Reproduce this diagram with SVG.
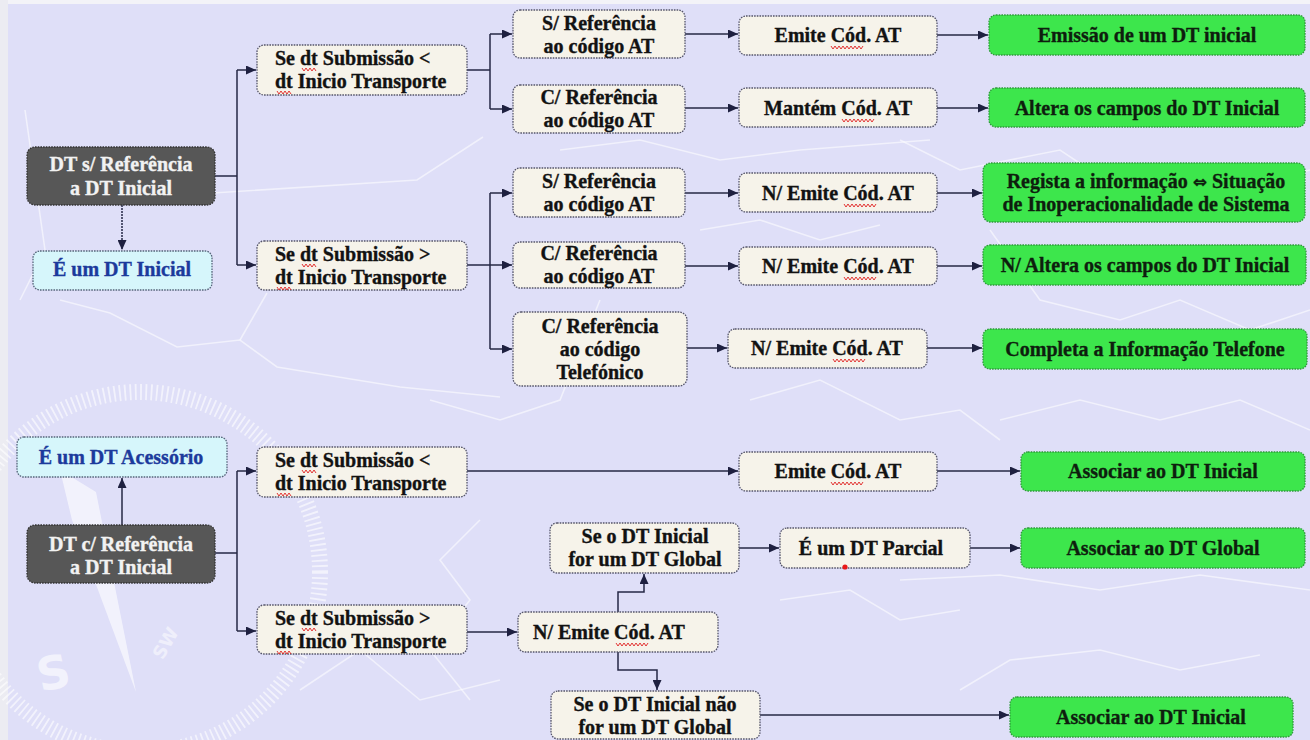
<svg xmlns="http://www.w3.org/2000/svg" xmlns:xlink="http://www.w3.org/1999/xlink" width="1310" height="740" viewBox="0 0 1310 740" font-family="'Liberation Serif', serif">
<defs>
<style>
.bx{fill:#f6f3ea;stroke:#55556a;stroke-width:1.3;stroke-dasharray:1.6,1.1}
.gr{fill:#3de64c;stroke:#2e9a3a;stroke-width:1.3;stroke-dasharray:1.6,1.1}
.dk{fill:#575757;stroke:#333;stroke-width:1.3;stroke-dasharray:1.6,1.1}
.cy{fill:#d6f6fb;stroke:#55657a;stroke-width:1.3;stroke-dasharray:1.6,1.1}
text{font-family:'Liberation Serif','Times New Roman',serif;font-weight:bold;font-size:20px;fill:#121212;stroke:#121212;stroke-width:0.35}
.c{text-anchor:middle}
.w{fill:#f2f2f2;stroke:#f2f2f2}
.b{fill:#1c3a9c;stroke:#1c3a9c}
.g{fill:#0e1e0e;stroke:#0e1e0e}
.ln{fill:none;stroke:#262845;stroke-width:1.5}
.bg{fill:none;stroke:#ffffff;stroke-width:1.6;stroke-opacity:0.55}
.sq{fill:none;stroke:#e02020;stroke-width:0.9}
.dec{font-family:'DejaVu Sans',sans-serif;fill:#ffffff;stroke:none}
</style>
<marker id="ar" markerUnits="userSpaceOnUse" markerWidth="11" markerHeight="9" refX="10" refY="4.5" orient="auto">
<path d="M0,0 L10,4.5 L0,9 z" fill="#1e2040"/>
</marker>
<path id="sq14" class="sq" d="M0,0 l2,3 l2,-3 l2,3 l2,-3 l2,3 l2,-3 l2,3"/>
<path id="sq32" class="sq" d="M0,0 l2,3 l2,-3 l2,3 l2,-3 l2,3 l2,-3 l2,3 l2,-3 l2,3 l2,-3 l2,3 l2,-3 l2,3 l2,-3 l2,3 l2,-3"/>
</defs>

<g id="background">
<rect x="0" y="0" width="1310" height="740" fill="#dfdff8"/>
<rect x="0" y="0" width="1310" height="4" fill="#f3f3f8"/>
<rect x="0" y="0" width="8" height="740" fill="#ececf2"/>
<circle cx="140" cy="572" r="180" fill="none" stroke="#ffffff" stroke-opacity="0.6" stroke-width="16" stroke-dasharray="1.8,3.5"/>
<polygon points="60,470 96,492 136,692 72,520" fill="#ffffff" fill-opacity="0.6"/>
<text class="dec" x="36" y="690" style="font-size:46px;fill-opacity:0.6" transform="rotate(-12 48 670)">S</text>
<text class="dec" x="148" y="655" style="font-size:18px;fill-opacity:0.5" transform="rotate(-60 160 645)">SW</text>
<polyline class="bg" points="213,193 417,180 483,137"/>
<polyline class="bg" points="60,300 110,313 177,347 240,340 277,367 400,387 500,397"/>
<polyline class="bg" points="267,293 240,340"/>
<polyline class="bg" points="25,110 45,250 20,300"/>
<polyline class="bg" points="560,150 640,140 720,160 800,150 930,140"/>
<polyline class="bg" points="900,140 960,170 1060,150 1120,190 1200,200 1310,170"/>
<polyline class="bg" points="700,230 760,220 820,240 880,225"/>
<polyline class="bg" points="990,230 1040,300 1120,320 1180,300 1250,330 1310,310"/>
<polyline class="bg" points="600,300 560,400 500,420 430,400"/>
<polyline class="bg" points="750,400 820,380 900,420 960,410 1000,440"/>
<polyline class="bg" points="1000,420 1080,400 1160,420 1240,400 1310,430"/>
<polyline class="bg" points="480,520 440,560 470,600 430,650 470,700"/>
<polyline class="bg" points="780,600 850,590 900,620 960,610"/>
<polyline class="bg" points="900,580 1000,575 1100,590 1200,575 1310,590"/>
<polyline class="bg" points="960,690 1010,660 1100,650 1180,670 1260,655"/>
<polyline class="bg" points="300,690 360,650 420,700 500,680"/>
</g>

<g id="connectors">
<path class="ln" d="M215,176 H237 M237,70 V265"/>
<path class="ln" d="M237,70 H256" marker-end="url(#ar)"/>
<path class="ln" d="M237,265 H256" marker-end="url(#ar)"/>
<path class="ln" d="M122,205 V250" marker-end="url(#ar)" stroke-dasharray="2,1"/>
<path class="ln" d="M467,70 H490 M490,34 V109"/>
<path class="ln" d="M490,34 H512" marker-end="url(#ar)"/>
<path class="ln" d="M490,109 H512" marker-end="url(#ar)"/>
<path class="ln" d="M467,265 H490 M490,193 V349"/>
<path class="ln" d="M490,193 H512" marker-end="url(#ar)"/>
<path class="ln" d="M490,265 H512" marker-end="url(#ar)"/>
<path class="ln" d="M490,349 H512" marker-end="url(#ar)"/>
<path class="ln" d="M685,34 H738" marker-end="url(#ar)"/>
<path class="ln" d="M685,108 H738" marker-end="url(#ar)"/>
<path class="ln" d="M937,35 H988" marker-end="url(#ar)"/>
<path class="ln" d="M937,108 H988" marker-end="url(#ar)"/>
<path class="ln" d="M685,193 H738" marker-end="url(#ar)"/>
<path class="ln" d="M685,266 H738" marker-end="url(#ar)"/>
<path class="ln" d="M687,348 H727" marker-end="url(#ar)"/>
<path class="ln" d="M937,193 H982" marker-end="url(#ar)"/>
<path class="ln" d="M937,266 H982" marker-end="url(#ar)"/>
<path class="ln" d="M927,348 H982" marker-end="url(#ar)"/>
<path class="ln" d="M122,525 V478" marker-end="url(#ar)"/>
<path class="ln" d="M215,553 H237 M237,471 V631"/>
<path class="ln" d="M237,471 H256" marker-end="url(#ar)"/>
<path class="ln" d="M237,631 H256" marker-end="url(#ar)"/>
<path class="ln" d="M467,471 H738" marker-end="url(#ar)"/>
<path class="ln" d="M937,471 H1020" marker-end="url(#ar)"/>
<path class="ln" d="M467,632 H517" marker-end="url(#ar)"/>
<path class="ln" d="M618,612 V592 H644 V574" marker-end="url(#ar)"/>
<path class="ln" d="M739,548 H779" marker-end="url(#ar)"/>
<path class="ln" d="M970,548 H1020" marker-end="url(#ar)"/>
<path class="ln" d="M618,652 V670 H657 V690" marker-end="url(#ar)"/>
<path class="ln" d="M760,715 H1009" marker-end="url(#ar)"/>
</g>

<g id="n1"><rect class="dk" x="27" y="147" width="188" height="58" rx="8"/>
<text class="c w" x="121" y="171">DT s/ Referência</text><text class="c w" x="121" y="195">a DT Inicial</text></g>
<g id="n2"><rect class="cy" x="33" y="251" width="179" height="39" rx="7"/>
<text class="c b" x="122" y="276">É um DT Inicial</text></g>
<g id="n3"><rect class="bx" x="257" y="45" width="210" height="50" rx="7"/>
<text x="275" y="65">Se dt Submissão &lt;</text><text x="275" y="88">dt Inicio Transporte</text>
<use xlink:href="#sq14" x="302" y="68"/><use xlink:href="#sq14" x="277" y="91"/></g>
<g id="n4"><rect class="bx" x="257" y="241" width="210" height="49" rx="7"/>
<text x="275" y="261">Se dt Submissão &gt;</text><text x="275" y="284">dt Inicio Transporte</text>
<use xlink:href="#sq14" x="302" y="264"/><use xlink:href="#sq14" x="277" y="287"/></g>
<g id="n5"><rect class="bx" x="513" y="10" width="172" height="48" rx="7"/>
<text class="c" x="599" y="30">S/ Referência</text><text class="c" x="599" y="53">ao código AT</text></g>
<g id="n6"><rect class="bx" x="513" y="85" width="172" height="48" rx="7"/>
<text class="c" x="599" y="104">C/ Referência</text><text class="c" x="599" y="127">ao código AT</text></g>
<g id="n7"><rect class="bx" x="739" y="16" width="198" height="39" rx="7"/>
<text class="c" x="838" y="42">Emite Cód. AT</text><use xlink:href="#sq32" x="831" y="46"/></g>
<g id="n8"><rect class="bx" x="739" y="88" width="198" height="39" rx="7"/>
<text class="c" x="838" y="115">Mantém Cód. AT</text><use xlink:href="#sq32" x="842" y="119"/></g>
<g id="n9"><rect class="gr" x="989" y="15" width="316" height="40" rx="7"/>
<text class="c g" x="1147" y="42">Emissão de um DT inicial</text></g>
<g id="n10"><rect class="gr" x="989" y="88" width="316" height="39" rx="7"/>
<text class="c g" x="1147" y="115">Altera os campos do DT Inicial</text></g>
<g id="n11"><rect class="bx" x="513" y="168" width="172" height="49" rx="7"/>
<text class="c" x="599" y="188">S/ Referência</text><text class="c" x="599" y="211">ao código AT</text></g>
<g id="n12"><rect class="bx" x="513" y="242" width="172" height="46" rx="7"/>
<text class="c" x="599" y="260">C/ Referência</text><text class="c" x="599" y="283">ao código AT</text></g>
<g id="n13"><rect class="bx" x="513" y="312" width="174" height="74" rx="8"/>
<text class="c" x="600" y="333">C/ Referência</text><text class="c" x="600" y="356">ao código</text><text class="c" x="600" y="379">Telefónico</text></g>
<g id="n14"><rect class="bx" x="739" y="173" width="198" height="39" rx="7"/>
<text class="c" x="838" y="200">N/ Emite Cód. AT</text><use xlink:href="#sq32" x="844" y="204"/></g>
<g id="n15"><rect class="bx" x="739" y="247" width="198" height="38" rx="7"/>
<text class="c" x="838" y="273">N/ Emite Cód. AT</text><use xlink:href="#sq32" x="844" y="277"/></g>
<g id="n16"><rect class="bx" x="728" y="329" width="199" height="39" rx="7"/>
<text class="c" x="827" y="355">N/ Emite Cód. AT</text><use xlink:href="#sq32" x="833" y="359"/></g>
<g id="n17"><rect class="gr" x="983" y="163" width="322" height="59" rx="8"/>
<text class="c g" x="1146" y="188">Regista a informação <tspan style="font-family:'DejaVu Sans',sans-serif;font-size:17px">⇔</tspan> Situação</text><text class="c g" x="1146" y="211">de Inoperacionalidade de Sistema</text></g>
<g id="n18"><rect class="gr" x="983" y="245" width="323" height="40" rx="7"/>
<text class="c g" x="1145" y="272">N/ Altera os campos do DT Inicial</text></g>
<g id="n19"><rect class="gr" x="983" y="329" width="324" height="40" rx="7"/>
<text class="c g" x="1145" y="356">Completa a Informação Telefone</text></g>
<g id="n20"><rect class="cy" x="17" y="437" width="210" height="40" rx="7"/>
<text class="c b" x="121" y="464">É um DT Acessório</text></g>
<g id="n21"><rect class="dk" x="27" y="525" width="188" height="58" rx="8"/>
<text class="c w" x="121" y="551">DT c/ Referência</text><text class="c w" x="121" y="574">a DT Inicial</text></g>
<g id="n22"><rect class="bx" x="257" y="447" width="210" height="50" rx="7"/>
<text x="275" y="467">Se dt Submissão &lt;</text><text x="275" y="490">dt Inicio Transporte</text>
<use xlink:href="#sq14" x="302" y="470"/><use xlink:href="#sq14" x="277" y="493"/></g>
<g id="n23"><rect class="bx" x="257" y="605" width="210" height="49" rx="7"/>
<text x="275" y="625">Se dt Submissão &gt;</text><text x="275" y="648">dt Inicio Transporte</text>
<use xlink:href="#sq14" x="302" y="628"/><use xlink:href="#sq14" x="277" y="651"/></g>
<g id="n24"><rect class="bx" x="739" y="452" width="198" height="39" rx="7"/>
<text class="c" x="838" y="478">Emite Cód. AT</text><use xlink:href="#sq32" x="831" y="482"/></g>
<g id="n25"><rect class="gr" x="1021" y="452" width="284" height="39" rx="7"/>
<text class="c g" x="1163" y="478">Associar ao DT Inicial</text></g>
<g id="n26"><rect class="bx" x="518" y="612" width="200" height="40" rx="7"/>
<text x="533" y="639">N/ Emite Cód. AT</text><use xlink:href="#sq32" x="616" y="643"/></g>
<g id="n27"><rect class="bx" x="550" y="523" width="189" height="50" rx="7"/>
<text class="c" x="645" y="543">Se o DT Inicial</text><text class="c" x="645" y="566">for um DT Global</text></g>
<g id="n28"><rect class="bx" x="780" y="528" width="190" height="40" rx="7"/>
<text class="c" x="871" y="555">É um DT Parcial</text><circle cx="845" cy="567" r="2.6" fill="#e81818"/></g>
<g id="n29"><rect class="gr" x="1021" y="528" width="284" height="40" rx="7"/>
<text class="c g" x="1163" y="555">Associar ao DT Global</text></g>
<g id="n30"><rect class="bx" x="551" y="691" width="209" height="48" rx="7"/>
<text class="c" x="655" y="711">Se  o DT Inicial não</text><text class="c" x="655" y="734">for um  DT Global</text></g>
<g id="n31"><rect class="gr" x="1010" y="697" width="283" height="40" rx="7"/>
<text class="c g" x="1151" y="724">Associar ao DT Inicial</text></g>
</svg>
